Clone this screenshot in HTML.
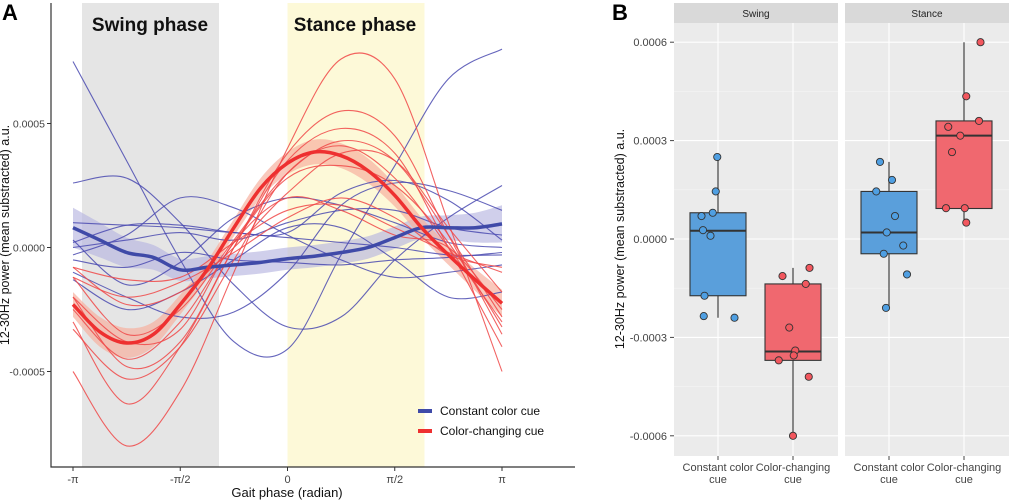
<!DOCTYPE html>
<html><head><meta charset="utf-8">
<style>
html,body{margin:0;padding:0;background:#fff;}
svg{display:block;font-family:"Liberation Sans",sans-serif;}
</style></head>
<body>
<svg id="fig" width="1011" height="501" viewBox="0 0 1011 501" xmlns="http://www.w3.org/2000/svg">
<g id="pa"></g>
<g id="pb"></g>
</svg>
<script>
// ---------- Panel A data (values in 1e-4 a.u.) ----------
const meanPhasesA = [-8,-7,-6,-5,-4,-3,-2,-1,0,1,2,3,4,5,6,7,8]; // units of pi/8
const blueMean = [0.8,0.3,-0.2,-0.4,-0.9,-0.8,-0.7,-0.6,-0.45,-0.35,-0.2,0.0,0.4,0.8,0.8,0.8,0.95];
const blueBand = [0.8,0.7,0.6,0.5,0.45,0.45,0.45,0.45,0.45,0.45,0.45,0.45,0.45,0.45,0.5,0.6,0.75];
const redMean = [-2.3,-3.4,-3.85,-3.5,-2.3,-0.9,0.8,2.4,3.4,3.85,3.7,3.1,2.1,0.8,-0.3,-1.3,-2.25];
const redBand = [0.5,0.6,0.6,0.5,0.4,0.35,0.35,0.4,0.45,0.5,0.5,0.5,0.45,0.4,0.4,0.45,0.55];
const linePhasesA = [-4,-3,-2,-1,0,1,2,3,4]; // units of pi/4
const blueLines = [
 [7.5,3.5,-0.5,-3.8,-4.1,-0.3,3.3,6.8,8.0],
 [2.6,2.8,1.0,-1.5,-3.2,-2.8,-0.5,1.2,2.5],
 [0.2,0.9,0.9,0.6,0.4,0.2,0.0,-0.3,-0.3],
 [-1.0,-2.0,-2.8,-2.6,-1.0,1.7,2.6,2.3,1.5],
 [0.3,-1.5,-0.6,1.2,2.0,1.7,1.0,0.2,0.0],
 [-0.3,0.5,2.0,1.6,0.5,-0.5,-1.2,-1.0,-0.7],
 [1.0,0.9,0.8,0.6,0.6,2.2,2.7,1.9,0.3],
 [-0.5,-0.8,-0.2,-0.5,-0.6,-0.7,-0.5,-0.4,-0.2],
 [-1.3,-2.5,-1.8,-0.5,0.8,0.8,-0.5,-2.0,-1.8],
 [0.0,0.3,0.6,0.3,1.0,1.5,1.5,0.8,0.5]
];
const redLines = [
 [-5.0,-8.0,-5.8,-1.0,4.0,7.6,6.8,1.0,-5.0],
 [-3.0,-6.3,-4.0,0.0,3.8,5.5,4.5,0.5,-3.5],
 [-2.0,-4.8,-3.8,0.0,3.5,4.8,3.8,0.0,-4.0],
 [-1.2,-3.5,-2.5,0.3,3.0,4.3,3.5,0.5,-2.8],
 [-0.8,-2.3,-1.8,0.0,2.2,3.8,3.5,0.8,-1.8],
 [-1.2,-2.0,-1.4,-0.2,1.2,2.0,1.2,-0.3,-0.8],
 [-0.8,-1.3,-1.2,0.2,1.5,1.7,0.8,-0.2,-1.0],
 [-2.5,-4.5,-3.0,0.2,2.8,3.3,2.5,0.2,-3.2],
 [-2.0,-3.8,-3.3,0.2,2.0,1.5,0.5,0.0,-2.5],
 [-3.3,-5.3,-4.0,-0.5,3.0,4.1,2.8,0.0,-3.0]
];
const xTickLabelsA = ["-π","-π/2","0","π/2","π"];
const yTickValsA = [5,0,-5];
const yTickLabelsA = ["0.0005","0.0000","-0.0005"];

// ---------- Panel B data (values in 1e-4) ----------
const facets = ["Swing","Stance"];
const groups = ["Constant color\ncue","Color-changing\ncue"];
const boxStats = [ // [facet, group, lowWhisker, q1, median, q3, highWhisker]
 [0,0,-2.4,-1.73,0.25,0.8,2.5],
 [0,1,-6.0,-3.7,-3.43,-1.37,-0.88],
 [1,0,-2.1,-0.45,0.2,1.45,2.35],
 [1,1,0.5,0.93,3.15,3.6,6.0]
];
const pointVals = [
 [2.5,1.45,0.8,0.7,0.27,0.1,-1.73,-2.35,-2.4],
 [-1.13,-0.88,-1.37,-2.7,-3.4,-3.55,-3.7,-4.2,-6.0],
 [2.35,1.8,1.45,0.7,0.2,-0.2,-0.45,-1.08,-2.1],
 [6.0,4.35,3.6,3.42,3.15,2.65,0.94,0.94,0.5]
];
const pointJitter = [ // fraction of category spacing
 [-0.01,-0.03,-0.07,-0.22,-0.2,-0.1,-0.18,-0.19,0.22],
 [-0.14,0.22,0.17,-0.05,0.03,0.01,-0.19,0.21,0],
 [-0.12,0.04,-0.17,0.08,-0.03,0.19,-0.07,0.24,-0.04],
 [0.22,0.03,0.2,-0.21,-0.05,-0.16,-0.24,0.01,0.03]
];
const yTickValsB = [6,3,0,-3,-6];
const yTickLabelsB = ["0.0006","0.0003","0.0000","-0.0003","-0.0006"];

const NS="http://www.w3.org/2000/svg";
function mk(parent,tag,attrs,text){const e=document.createElementNS(NS,tag);for(const k in attrs)e.setAttribute(k,attrs[k]);if(text!==undefined)e.textContent=text;parent.appendChild(e);return e;}
function smooth(pts){let d="M"+pts[0][0].toFixed(1)+","+pts[0][1].toFixed(1);
 for(let i=0;i<pts.length-1;i++){const p0=pts[Math.max(0,i-1)],p1=pts[i],p2=pts[i+1],p3=pts[Math.min(pts.length-1,i+2)];
  const c1=[p1[0]+(p2[0]-p0[0])/6,p1[1]+(p2[1]-p0[1])/6],c2=[p2[0]-(p3[0]-p1[0])/6,p2[1]-(p3[1]-p1[1])/6];
  d+="C"+c1[0].toFixed(1)+","+c1[1].toFixed(1)+" "+c2[0].toFixed(1)+","+c2[1].toFixed(1)+" "+p2[0].toFixed(1)+","+p2[1].toFixed(1);}
 return d;}

// ---------- Panel A ----------
const pa=document.getElementById('pa');
const xA=ph=>287.5+ph*(502-73)/(2*Math.PI);
const yA=v=>247.5-v*24.8;
let e;
e=mk(pa,'rect',{x:82,y:3,width:137,height:464,fill:'#e5e5e5'});


e=mk(pa,'rect',{x:xA(0),y:3,width:137,height:464,fill:'#fdf9d8'});


e=mk(pa,'text',{x:150,y:31,'font-size':19,'font-weight':'bold','text-anchor':'middle',fill:'#111'},'Swing phase');


e=mk(pa,'text',{x:355,y:31,'font-size':19,'font-weight':'bold','text-anchor':'middle',fill:'#111'},'Stance phase');


function bandPath(mean,band){const up=meanPhasesA.map((p,i)=>[xA(p*Math.PI/8),yA(mean[i]+band[i])]);const lo=meanPhasesA.map((p,i)=>[xA(p*Math.PI/8),yA(mean[i]-band[i])]).reverse();
 const l2=smooth(lo).replace(/^M/,"L");return smooth(up)+l2+"Z";}
e=mk(pa,'path',{d:bandPath(blueMean,blueBand),fill:'#b7b5e0',opacity:0.65});


e=mk(pa,'path',{d:bandPath(redMean,redBand),fill:'#f7b0a0',opacity:0.7});


blueLines.forEach((arr,k)=>{const l=mk(pa,'path',{d:smooth(arr.map((v,i)=>[xA(linePhasesA[i]*Math.PI/4),yA(v)])),fill:'none',stroke:'#4a4ab0','stroke-width':1.1,opacity:0.85});
 
 });
redLines.forEach((arr,k)=>{const l=mk(pa,'path',{d:smooth(arr.map((v,i)=>[xA(linePhasesA[i]*Math.PI/4),yA(v)])),fill:'none',stroke:'#f04848','stroke-width':1.1,opacity:0.85});
 
 });
e=mk(pa,'path',{d:smooth(meanPhasesA.map((p,i)=>[xA(p*Math.PI/8),yA(blueMean[i])])),fill:'none',stroke:'#3f4aa8','stroke-width':3.5});


e=mk(pa,'path',{d:smooth(meanPhasesA.map((p,i)=>[xA(p*Math.PI/8),yA(redMean[i])])),fill:'none',stroke:'#ee3030','stroke-width':3.5});


e=mk(pa,'path',{d:'M51,3V467H575',fill:'none',stroke:'#333','stroke-width':1.2});


xTickLabelsA.forEach((t,i)=>{const x=xA((i-2)*Math.PI/2);mk(pa,'line',{x1:x,x2:x,y1:467,y2:471,stroke:'#333'});
 const tx=mk(pa,'text',{x:x,y:483,'font-size':11,'text-anchor':'middle',fill:'#444'},t);
 
 });
yTickValsA.forEach((v,i)=>{const y=yA(v);mk(pa,'line',{x1:47,x2:51,y1:y,y2:y,stroke:'#333'});
 const tx=mk(pa,'text',{x:45,y:y+4,'font-size':10.5,'text-anchor':'end',fill:'#444'},yTickLabelsA[i]);
 
 });
e=mk(pa,'text',{x:287,y:497,'font-size':13,'text-anchor':'middle',fill:'#111'},'Gait phase (radian)');


e=mk(pa,'text',{x:0,y:0,'font-size':12.5,'text-anchor':'middle',fill:'#111',transform:'translate(9,235) rotate(-90)'},'12-30Hz power (mean substracted) a.u.');


e=mk(pa,'text',{x:2,y:20,'font-size':22,'font-weight':'bold',fill:'#000'},'A');


[['#3f4aa8','Constant color cue',411],['#ee3030','Color-changing cue',431]].forEach(([c,t,y])=>{
 const g=mk(pa,'g',{});
 
 
 mk(g,'line',{x1:418,x2:432,y1:y,y2:y,stroke:c,'stroke-width':4});
 mk(g,'text',{x:440,y:y+4,'font-size':12,fill:'#111'},t);});

// ---------- Panel B ----------
const pb=document.getElementById('pb');
const yB=v=>239-v*32.8;
const facetX=[674,845], facetW=164;
const catX=(f,g)=>facetX[f]+44+g*75;
e=mk(pb,'text',{x:612,y:20,'font-size':22,'font-weight':'bold',fill:'#000'},'B');


facets.forEach((name,f)=>{
 const x0=facetX[f];
 const s=mk(pb,'rect',{x:x0,y:3,width:facetW,height:20,fill:'#d9d9d9'});
 
 
 const st=mk(pb,'text',{x:x0+facetW/2,y:17,'font-size':10,'text-anchor':'middle',fill:'#222'},name);
 
 
 const bg=mk(pb,'rect',{x:x0,y:23,width:facetW,height:433,fill:'#ebebeb'});
 
 
 [4.5,1.5,-1.5,-4.5].forEach(v=>mk(pb,'line',{x1:x0,x2:x0+facetW,y1:yB(v),y2:yB(v),stroke:'#f5f5f5','stroke-width':0.6}));
 yTickValsB.forEach(v=>mk(pb,'line',{x1:x0,x2:x0+facetW,y1:yB(v),y2:yB(v),stroke:'#fff','stroke-width':1.1}));
 [0,1].forEach(g=>{const cx=catX(f,g);mk(pb,'line',{x1:cx,x2:cx,y1:23,y2:456,stroke:'#fff','stroke-width':1.1});
  mk(pb,'line',{x1:cx,x2:cx,y1:456,y2:460,stroke:'#444'});
  groups[g].split("\n").forEach((ln,j)=>{const t=mk(pb,'text',{x:cx,y:471+j*12,'font-size':11,'text-anchor':'middle',fill:'#444'},ln);
   
   });});
});
yTickValsB.forEach((v,i)=>{mk(pb,'line',{x1:670,x2:674,y1:yB(v),y2:yB(v),stroke:'#444'});
 const t=mk(pb,'text',{x:667,y:yB(v)+4,'font-size':11,'text-anchor':'end',fill:'#444'},yTickLabelsB[i]);
 
 });
e=mk(pb,'text',{x:0,y:0,'font-size':12.5,'text-anchor':'middle',fill:'#111',transform:'translate(624,239) rotate(-90)'},'12-30Hz power (mean substracted) a.u.');


const boxFill=['#5a9fdb','#f0686f'], ptFill=['#4f9fe2','#f2575e'];
boxStats.forEach((b,k)=>{const [f,g,lw,q1,md,q3,hw]=b;const cx=catX(f,g),hw2=28;
 const grp=mk(pb,'g',{});
 
 
 mk(grp,'line',{x1:cx,x2:cx,y1:yB(lw),y2:yB(hw),stroke:'#333','stroke-width':1.1});
 mk(grp,'rect',{x:cx-hw2,y:yB(q3),width:hw2*2,height:yB(q1)-yB(q3),fill:boxFill[g],stroke:'#333','stroke-width':1.1});
 mk(grp,'line',{x1:cx-hw2,x2:cx+hw2,y1:yB(md),y2:yB(md),stroke:'#333','stroke-width':2});
 pointVals[k].forEach((v,i)=>{const c=mk(grp,'circle',{cx:cx+pointJitter[k][i]*75,cy:yB(v),r:3.6,fill:ptFill[g],stroke:'#333','stroke-width':0.9});
  
  });
});
</script>
</body></html>
